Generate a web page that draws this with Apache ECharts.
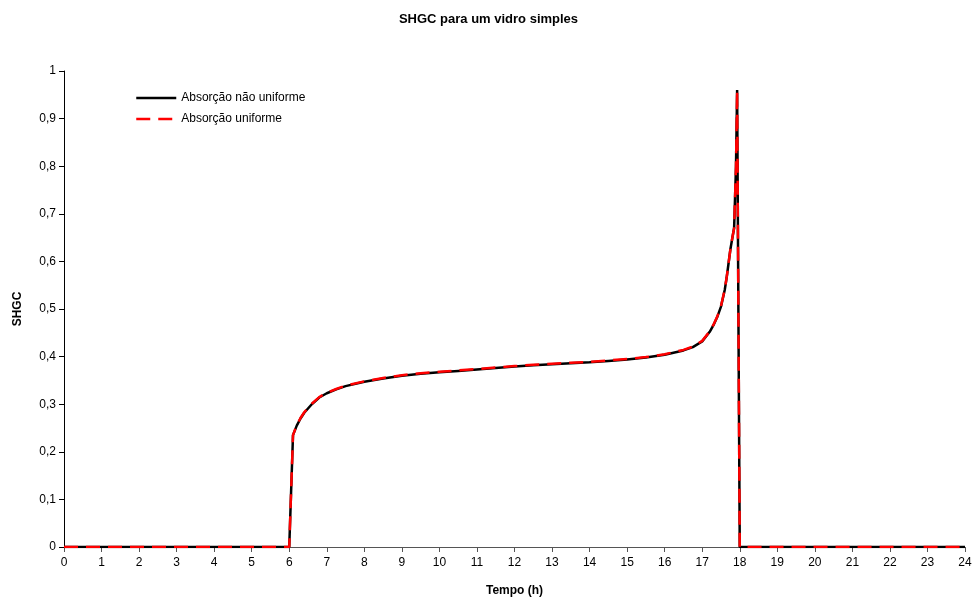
<!DOCTYPE html>
<html><head><meta charset="utf-8">
<script src="https://cdn.jsdelivr.net/npm/echarts@6/dist/echarts.min.js"></script>
<style>html,body{margin:0;padding:0;background:#fff}#c{width:977px;height:603px}</style>
</head><body><div id="c"></div>
<script>
const title = 'SHGC para um vidro simples';
const seriesNames = ['Absorção não uniforme', 'Absorção uniforme'];
const hours = [0, 6.0, 6.1, 6.2, 6.3, 6.4, 6.6, 6.8, 7.0, 7.25, 7.5, 8.0, 8.5, 9.0, 9.5, 10.0, 10.5, 11.0, 11.5, 12.0, 12.5, 13.0, 13.5, 14.0, 14.5, 15.0, 15.5, 16.0, 16.5, 16.75, 17.0, 17.2, 17.3, 17.4, 17.5, 17.6, 17.65, 17.7, 17.75, 17.8, 17.85, 17.9, 17.93, 18.0, 24];
const shgcNonUniform = [0, 0, 0.235, 0.255, 0.270, 0.282, 0.300, 0.314, 0.323, 0.331, 0.338, 0.347, 0.354, 0.360, 0.364, 0.367, 0.370, 0.373, 0.376, 0.379, 0.382, 0.384, 0.386, 0.388, 0.391, 0.394, 0.398, 0.404, 0.413, 0.420, 0.432, 0.452, 0.466, 0.483, 0.505, 0.540, 0.565, 0.595, 0.625, 0.648, 0.670, 0.800, 0.960, 0, 0];
const shgcUniform = [0, 0, 0.235, 0.256, 0.271, 0.283, 0.301, 0.315, 0.324, 0.332, 0.339, 0.348, 0.355, 0.361, 0.365, 0.368, 0.371, 0.374, 0.377, 0.380, 0.383, 0.385, 0.387, 0.389, 0.392, 0.395, 0.399, 0.405, 0.414, 0.421, 0.433, 0.453, 0.467, 0.484, 0.506, 0.541, 0.566, 0.595, 0.625, 0.648, 0.670, 0.800, 0.960, 0, 0];
const xTicks = {min: 0, max: 24, step: 1};
const yTicks = {min: 0, max: 1, step: 0.1};

const chart = echarts.init(document.getElementById('c'));
const font = 'Liberation Sans, Arial, sans-serif';
chart.setOption({
  animation: false,
  backgroundColor: '#fff',
  title: {text: title, left: 'center', top: 8, textStyle: {fontFamily: font, fontSize: 13, fontWeight: 'bold', color: '#000'}},
  grid: {left: 64, right: 12, top: 71, bottom: 56},
  legend: {
    orient: 'vertical', left: 130, top: 87, itemGap: 9, itemWidth: 40, itemHeight: 14,
    itemStyle: {opacity: 0},
    lineStyle: {width: 2.5},
    textStyle: {fontFamily: font, fontSize: 12, color: '#000'},
    data: seriesNames
  },
  xAxis: {
    type: 'value', min: xTicks.min, max: xTicks.max, interval: xTicks.step,
    name: 'Tempo (h)', nameLocation: 'middle', nameGap: 38,
    nameTextStyle: {fontFamily: font, fontSize: 12, fontWeight: 'bold', color: '#000'},
    axisLine: {lineStyle: {color: '#555', width: 1}},
    axisTick: {show: true, length: 5, lineStyle: {color: '#555'}},
    axisLabel: {fontFamily: font, fontSize: 12, color: '#000', margin: 10},
    splitLine: {show: false}
  },
  yAxis: {
    type: 'value', min: yTicks.min, max: yTicks.max, interval: yTicks.step,
    name: 'SHGC', nameLocation: 'middle', nameGap: 40, nameRotate: 90,
    nameTextStyle: {fontFamily: font, fontSize: 12, fontWeight: 'bold', color: '#000'},
    axisLine: {show: true, lineStyle: {color: '#000', width: 1}},
    axisTick: {show: true, length: 5, lineStyle: {color: '#000'}},
    axisLabel: {fontFamily: font, fontSize: 12, color: '#000', margin: 8,
      formatter: v => (Math.round(v*10)/10).toString().replace('.', ',')},
    splitLine: {show: false}
  },
  series: [
    {name: seriesNames[0], type: 'line', symbol: 'none', data: hours.map((h,i)=>[h, shgcNonUniform[i]]),
     lineStyle: {color: '#000', width: 2.5}, itemStyle: {color: '#000'}, z: 2},
    {name: seriesNames[1], type: 'line', symbol: 'none', data: hours.map((h,i)=>[h, shgcUniform[i]]),
     lineStyle: {color: '#ff0000', width: 2.5, type: [14, 8]}, itemStyle: {color: '#ff0000'}, z: 3}
  ]
});
</script></body></html>
